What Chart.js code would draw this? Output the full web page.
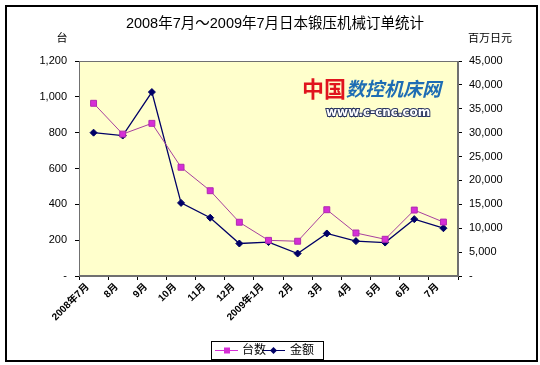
<!DOCTYPE html>
<html>
<head>
<meta charset="utf-8">
<script src="https://cdn.jsdelivr.net/npm/chart.js@4/dist/chart.umd.min.js"></script>
<style>
  html, body { margin: 0; padding: 0; background: #fff; }
  #wrap { width: 540px; height: 365px; }
</style>
</head>
<body>
<div id="wrap"><canvas id="c" width="540" height="365"></canvas></div>
<script>
// ---- data ----
const categories = ['2008年7月', '8月', '9月', '10月', '11月', '12月', '2009年1月', '2月', '3月', '4月', '5月', '6月', '7月'];
const unitsSeries = [964, 792, 852, 607, 476, 300, 199, 194, 370, 240, 205, 368, 301];      // 台数 (台)
const amountSeries = [30000, 29400, 38500, 15300, 12200, 6800, 7100, 4700, 8900, 7300, 7000, 11900, 10000]; // 金额 (百万日元)
const seriesNames = ['台数', '金额'];
const titleText = '2008年7月～2009年7月日本锻压机械订单统计';
const leftAxisTitle = '台';
const rightAxisTitle = '百万日元';
const leftTicks = { min: 0, max: 1200, step: 200 };
const rightTicks = { min: 0, max: 45000, step: 5000 };

const FONT = '"Liberation Sans", Arial, "Noto Sans CJK SC", sans-serif';
const C_UNITS = '#D62ED6';
const C_UNITS_LINE = '#A8409E';
const C_AMT = '#000066';

const fmt = v => v === 0 ? '-' : v.toLocaleString('en-US');

const decorPlugin = {
  id: 'decor',
  beforeDraw(chart) {
    const ctx = chart.ctx;
    ctx.save();
    ctx.fillStyle = '#fff';
    ctx.fillRect(0, 0, chart.width, chart.height);
    const a = chart.chartArea;
    ctx.fillStyle = '#FFFFCC';
    ctx.fillRect(a.left, a.top, a.right - a.left, a.bottom - a.top);
    ctx.restore();
  },
  beforeDatasetsDraw(chart) {
    const ctx = chart.ctx;
    const a = chart.chartArea;
    ctx.save();
    // plot frame
    ctx.strokeStyle = '#707070';
    ctx.lineWidth = 1;
    ctx.strokeRect(a.left + 0.5, a.top + 0.5, a.right - a.left - 1, a.bottom - a.top - 1);
    // watermark
    ctx.textBaseline = 'middle';
    ctx.textAlign = 'left';
    ctx.fillStyle = '#E0141E';
    ctx.font = 'bold 22px "Noto Sans CJK SC", serif';
    ctx.fillText('中国', 302, 89);
    ctx.fillStyle = '#1E6DB4';
    ctx.font = 'italic bold 19px "Noto Sans CJK SC", sans-serif';
    ctx.fillText('数控机床网', 346, 89);
    ctx.font = 'bold 12px "DejaVu Sans", sans-serif';
    ctx.lineWidth = 2;
    ctx.strokeStyle = '#2a3560';
    ctx.strokeText('www.c-cnc.com', 326, 113);
    ctx.fillStyle = '#ffffff';
    ctx.fillText('www.c-cnc.com', 326, 113);
    ctx.restore();
  },
  afterDraw(chart) {
    const ctx = chart.ctx;
    ctx.save();
    // title and axis titles
    ctx.fillStyle = '#000';
    ctx.textBaseline = 'middle';
    ctx.textAlign = 'center';
    ctx.font = '14.5px ' + FONT;
    ctx.fillText(titleText, 275, 24);
    ctx.font = '11px ' + FONT;
    ctx.fillText(leftAxisTitle, 62, 39);
    ctx.fillText(rightAxisTitle, 490, 39);
    // legend
    ctx.fillStyle = '#fff';
    ctx.fillRect(211.5, 341.5, 112, 18);
    ctx.strokeStyle = '#000';
    ctx.lineWidth = 1;
    ctx.strokeRect(211.5, 341.5, 112, 18);
    const ly = 350.5;
    ctx.strokeStyle = C_UNITS;
    ctx.beginPath(); ctx.moveTo(215, ly); ctx.lineTo(238, ly); ctx.stroke();
    ctx.fillStyle = C_UNITS;
    ctx.fillRect(224, ly - 3, 6, 6);
    ctx.strokeStyle = C_AMT;
    ctx.beginPath(); ctx.moveTo(262, ly); ctx.lineTo(285, ly); ctx.stroke();
    ctx.fillStyle = C_AMT;
    ctx.beginPath();
    ctx.moveTo(273.5, ly - 3.5); ctx.lineTo(277, ly); ctx.lineTo(273.5, ly + 3.5); ctx.lineTo(270, ly);
    ctx.closePath(); ctx.fill();
    ctx.fillStyle = '#000';
    ctx.textAlign = 'left';
    ctx.font = '12px ' + FONT;
    ctx.fillText(seriesNames[0], 242, ly);
    ctx.fillText(seriesNames[1], 290, ly);
    // outer border
    ctx.strokeStyle = '#000';
    ctx.lineWidth = 2;
    ctx.strokeRect(6, 6, 531, 355);
    ctx.restore();
  }
};

new Chart(document.getElementById('c'), {
  type: 'line',
  data: {
    labels: categories,
    datasets: [
      {
        label: seriesNames[0],
        data: unitsSeries,
        yAxisID: 'y',
        borderColor: C_UNITS_LINE,
        borderWidth: 1,
        backgroundColor: C_UNITS,
        pointBackgroundColor: C_UNITS,
        pointBorderColor: '#B02AB0',
        pointBorderWidth: 1,
        pointStyle: 'rect',
        pointRadius: 4.2,
        tension: 0
      },
      {
        label: seriesNames[1],
        data: amountSeries,
        yAxisID: 'y1',
        borderColor: C_AMT,
        borderWidth: 1.3,
        backgroundColor: C_AMT,
        pointBackgroundColor: C_AMT,
        pointBorderColor: C_AMT,
        pointBorderWidth: 1,
        pointStyle: 'rectRot',
        pointRadius: 3.5,
        tension: 0
      }
    ]
  },
  options: {
    responsive: false,
    animation: false,
    devicePixelRatio: 1,
    layout: { padding: { top: 61, left: 0, right: 0, bottom: 0 } },
    plugins: { legend: { display: false }, title: { display: false }, tooltip: { enabled: false } },
    scales: {
      x: {
        type: 'category',
        offset: true,
        grid: { offset: true, drawOnChartArea: false, drawTicks: true, tickLength: 4, color: '#000' },
        border: { display: true, color: '#707070' },
        ticks: {
          autoSkip: false, maxRotation: 45, minRotation: 45,
          color: '#000', font: { size: 10, weight: 'bold', family: FONT },
          padding: 1, labelOffset: -6
        },
        afterFit: s => { s.height = 89; }
      },
      y: {
        position: 'left',
        min: leftTicks.min, max: leftTicks.max,
        grid: { drawOnChartArea: false, drawTicks: true, tickLength: 4, color: '#000' },
        border: { display: true, color: '#707070' },
        ticks: { stepSize: leftTicks.step, color: '#000', font: { size: 11, family: FONT }, padding: 8, callback: fmt },
        afterFit: s => { s.width = 79; }
      },
      y1: {
        position: 'right',
        min: rightTicks.min, max: rightTicks.max,
        grid: { drawOnChartArea: false, drawTicks: true, tickLength: 4, color: '#000' },
        border: { display: true, color: '#707070' },
        ticks: { stepSize: rightTicks.step, color: '#000', font: { size: 11, family: FONT }, padding: 7, callback: fmt },
        afterFit: s => { s.width = 82; }
      }
    }
  },
  plugins: [decorPlugin]
});
</script>
</body>
</html>
